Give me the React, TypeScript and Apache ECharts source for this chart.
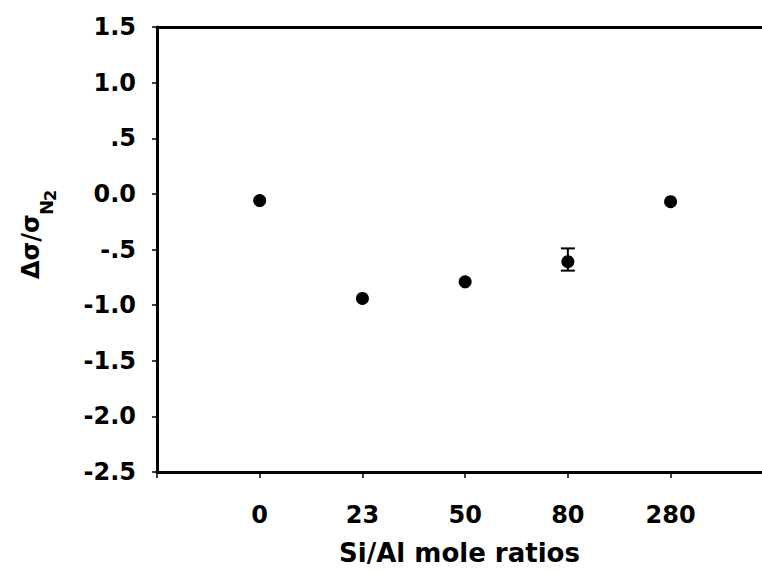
import React, { useEffect, useRef } from "react";
import * as echarts from "echarts";

const categories = ["0", "23", "50", "80", "280"];
const values = [-0.06, -0.94, -0.79, -0.61, -0.07];
const errLow = [null, null, null, -0.69, null];
const errHigh = [null, null, null, -0.49, null];
const yTickLabels: Record<string, string> = {
  "1.5": "1.5",
  "1": "1.0",
  "0.5": ".5",
  "0": "0.0",
  "-0.5": "-.5",
  "-1": "-1.0",
  "-1.5": "-1.5",
  "-2": "-2.0",
  "-2.5": "-2.5",
};

const FONT = "DejaVu Sans";

export default function App() {
  const ref = useRef<HTMLDivElement>(null);
  useEffect(() => {
    document.body.style.margin = "0";
    if (!ref.current) return;
    const chart = echarts.init(ref.current, null, { renderer: "svg" });
    const points = values.map((v, i) => [i, v]);
    const errData = errLow
      .map((l, i) => (l === null ? null : [i, l, errHigh[i]]))
      .filter((d) => d !== null) as number[][];
    const axisLine = { lineStyle: { color: "#000", width: 3 } };
    chart.setOption({
      animation: false,
      backgroundColor: "#fff",
      grid: { left: 157, right: 0, top: 27, bottom: 101 },
      xAxis: [
        {
          type: "value",
          min: -1,
          max: 4.89,
          interval: 1,
          axisLine: { ...axisLine, onZero: false },
          axisTick: { show: true, length: 6, lineStyle: { color: "#000", width: 1.5 } },
          splitLine: { show: false },
          axisLabel: {
            margin: 31,
            color: "#000",
            fontFamily: FONT,
            fontWeight: "bold",
            fontSize: 24,
            showMaxLabel: false,
            formatter: (v: number) => (categories[v] !== undefined ? categories[v] : ""),
          },
          name: "Si/Al mole ratios",
          nameLocation: "middle",
          nameGap: 68,
          nameTextStyle: {
            color: "#000",
            fontFamily: FONT,
            fontWeight: "bold",
            fontSize: 26,
          },
        },
        {
          type: "value",
          position: "top",
          min: -1,
          max: 4.89,
          interval: 1,
          axisLine: { ...axisLine, onZero: false },
          axisTick: { show: false },
          axisLabel: { show: false },
          splitLine: { show: false },
        },
      ],
      yAxis: {
        type: "value",
        min: -2.5,
        max: 1.5,
        interval: 0.5,
        axisLine: { ...axisLine, onZero: false },
        axisTick: { show: true, length: 5, lineStyle: { color: "#000", width: 1.5 } },
        splitLine: { show: false },
        axisLabel: {
          margin: 21,
          color: "#000",
          fontFamily: FONT,
          fontWeight: "bold",
          fontSize: 24,
          formatter: (v: number) => yTickLabels[String(v)] ?? String(v),
        },
      },
      graphic: [
        {
          type: "group",
          x: 31,
          y: 279,
          rotation: Math.PI / 2,
          children: [
            {
              type: "text",
              x: 0,
              y: 0,
              style: {
                text: "Δσ/σ",
                fontFamily: FONT,
                fontWeight: "bold",
                fontSize: 24,
                fill: "#000",
                align: "left",
                verticalAlign: "middle",
              },
            },
            {
              type: "text",
              x: 64,
              y: 15,
              style: {
                text: "N",
                fontFamily: FONT,
                fontWeight: "bold",
                fontSize: 18,
                fill: "#000",
                align: "left",
                verticalAlign: "middle",
              },
            },
            {
              type: "text",
              x: 78,
              y: 19,
              style: {
                text: "2",
                fontFamily: FONT,
                fontWeight: "bold",
                fontSize: 16,
                fill: "#000",
                align: "left",
                verticalAlign: "middle",
              },
            },
          ],
        },
      ],
      series: [
        {
          type: "custom",
          data: errData,
          renderItem: (params: any, api: any) => {
            const x = api.value(0);
            const lo = api.coord([x, api.value(1)]);
            const hi = api.coord([x, api.value(2)]);
            const cap = 7;
            const style = { stroke: "#000", lineWidth: 2 };
            return {
              type: "group",
              children: [
                { type: "line", shape: { x1: lo[0], y1: lo[1], x2: hi[0], y2: hi[1] }, style },
                { type: "line", shape: { x1: lo[0] - cap, y1: lo[1], x2: lo[0] + cap, y2: lo[1] }, style },
                { type: "line", shape: { x1: hi[0] - cap, y1: hi[1], x2: hi[0] + cap, y2: hi[1] }, style },
              ],
            };
          },
          z: 2,
        },
        {
          type: "scatter",
          data: points,
          symbol: "circle",
          symbolSize: 13,
          itemStyle: { color: "#000", opacity: 1 },
          z: 3,
        },
      ],
    });
    return () => chart.dispose();
  }, []);
  return <div ref={ref} style={{ width: 762, height: 573 }} />;
}
